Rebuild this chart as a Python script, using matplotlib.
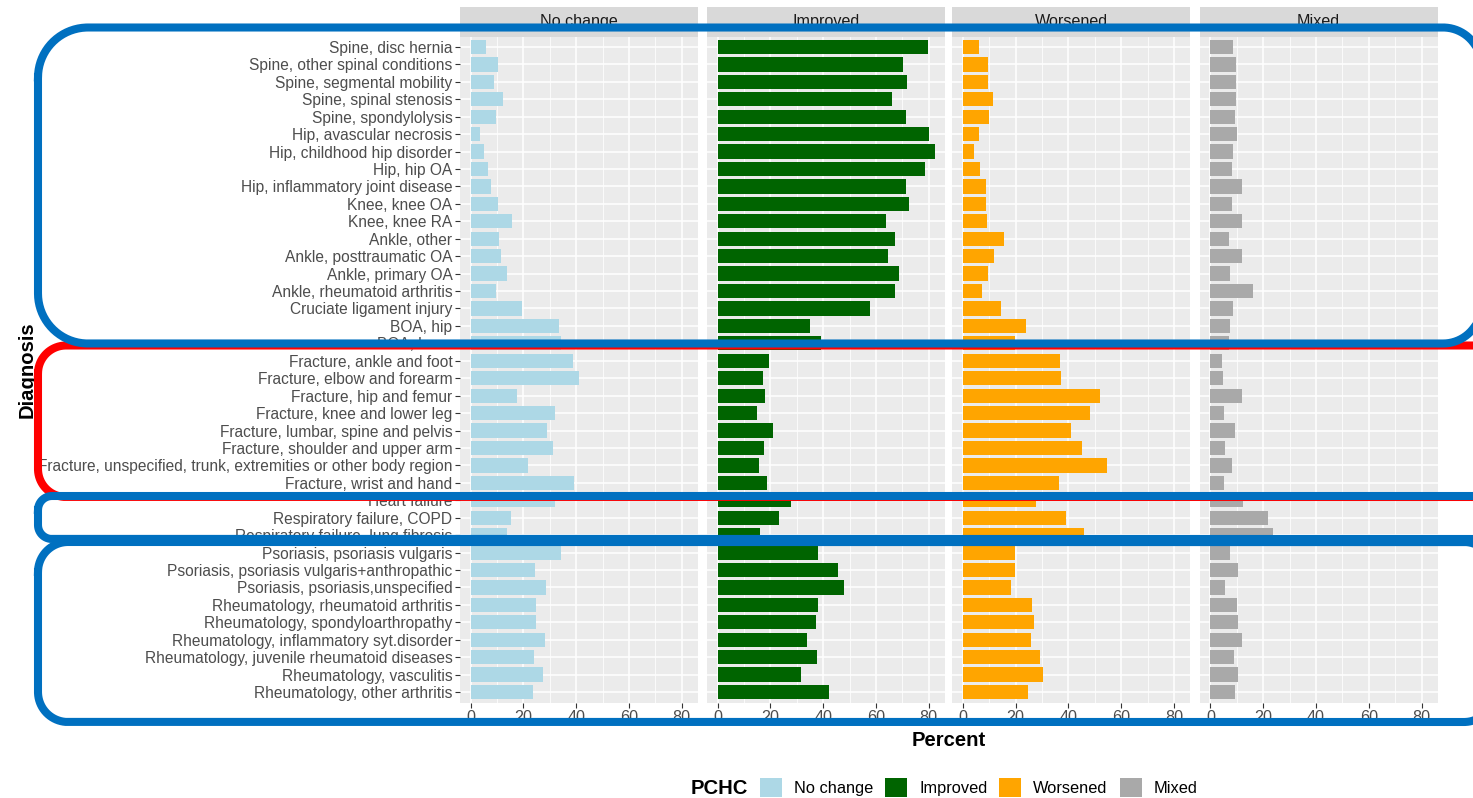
import numpy as np
import matplotlib.pyplot as plt
from matplotlib.patches import Patch

# Data (percent of patients per outcome group)
diagnoses = [
    "Spine, disc hernia",
    "Spine, other spinal conditions",
    "Spine, segmental mobility",
    "Spine, spinal stenosis",
    "Spine, spondylolysis",
    "Hip, avascular necrosis",
    "Hip, childhood hip disorder",
    "Hip, hip OA",
    "Hip, inflammatory joint disease",
    "Knee, knee OA",
    "Knee, knee RA",
    "Ankle, other",
    "Ankle, posttraumatic OA",
    "Ankle, primary OA",
    "Ankle, rheumatoid arthritis",
    "Cruciate ligament injury",
    "BOA, hip",
    "BOA, knee",
    "Fracture, ankle and foot",
    "Fracture, elbow and forearm",
    "Fracture, hip and femur",
    "Fracture, knee and lower leg",
    "Fracture, lumbar, spine and pelvis",
    "Fracture, shoulder and upper arm",
    "Fracture, unspecified, trunk, extremities or other body region",
    "Fracture, wrist and hand",
    "Heart failure",
    "Respiratory failure, COPD",
    "Respiratory failure, lung fibrosis",
    "Psoriasis, psoriasis vulgaris",
    "Psoriasis, psoriasis vulgaris+anthropathic",
    "Psoriasis, psoriasis,unspecified",
    "Rheumatology, rheumatoid arthritis",
    "Rheumatology, spondyloarthropathy",
    "Rheumatology, inflammatory syt.disorder",
    "Rheumatology, juvenile rheumatoid diseases",
    "Rheumatology, vasculitis",
    "Rheumatology, other arthritis",
]

no_change = [5.7, 10.4, 8.7, 12.1, 9.5, 3.5, 5.0, 6.6, 7.8, 10.4,
             15.6, 10.7, 11.4, 13.9, 9.7, 19.6, 33.6, 34.3, 38.8, 40.9,
             17.5, 32.1, 28.8, 31.2, 21.7, 39.2, 32.1, 15.3, 13.9, 34.3,
             24.3, 28.4, 24.6, 24.6, 28.1, 23.9, 27.4, 23.6]
improved = [79.6, 70.1, 71.8, 66.0, 71.4, 80.2, 82.2, 78.5, 71.4, 72.5,
            63.9, 67.3, 64.7, 68.8, 67.3, 57.6, 34.8, 39.3, 19.6, 17.0,
            17.9, 14.8, 20.9, 17.6, 15.7, 18.7, 27.9, 23.2, 16.1, 38.1,
            45.4, 47.9, 38.1, 37.4, 33.8, 37.8, 31.4, 42.2]
worsened = [6.1, 9.6, 9.6, 11.5, 10.0, 6.1, 4.4, 6.7, 8.9, 8.9,
            9.2, 15.7, 12.0, 9.6, 7.4, 14.4, 24.0, 19.8, 36.8, 37.2,
            52.1, 48.1, 41.0, 45.3, 54.5, 36.4, 27.7, 39.2, 46.0, 19.8,
            19.8, 18.3, 26.2, 26.8, 25.9, 29.4, 30.5, 24.8]
mixed = [8.7, 9.8, 9.8, 9.8, 9.4, 10.2, 8.7, 8.3, 11.9, 8.3,
         11.9, 7.2, 11.9, 7.6, 16.3, 8.7, 7.6, 6.9, 4.3, 4.6,
         11.9, 5.0, 9.4, 5.7, 8.0, 5.0, 12.4, 21.9, 23.9, 7.6,
         10.6, 5.4, 10.2, 10.6, 11.9, 9.1, 10.6, 9.4]

groups = ["No change", "Improved", "Worsened", "Mixed"]
colors = ["#ADD8E6", "#006400", "#FFA500", "#A9A9A9"]
series = [no_change, improved, worsened, mixed]

x_ticks = [0, 20, 40, 60, 80]
x_minor = [10, 30, 50, 70]


def box_outline(x0, y0, x1, y1, rl, rr, n=40):
    """Rounded box outline (pixel coords, y pointing down), left/right radii can differ"""
    pts = []
    corners = [(x0 + rl, y0 + rl, rl, 180, 270),
               (x1 - rr, y0 + rr, rr, 270, 360),
               (x1 - rr, y1 - rr, rr, 0, 90),
               (x0 + rl, y1 - rl, rl, 90, 180)]
    for cx, cy, r, a0, a1 in corners:
        t = np.radians(np.linspace(a0, a1, n))
        pts.append(np.column_stack([cx + r * np.cos(t), cy + r * np.sin(t)]))
    pts = np.vstack(pts + [pts[0][:1]])
    return pts[:, 0], pts[:, 1]


def draw():
    plt.rcParams['font.family'] = ['Liberation Sans', 'DejaVu Sans']
    W, H = 1473, 798
    fig = plt.figure(figsize=(W / 100, H / 100), dpi=100)

    # panel geometry in pixels
    lefts = [459.8, 706.9, 952.0, 1199.6]
    pw = 238.0
    top, bottom = 36.5, 702.5
    strip_h = 29.5
    small = 11.6

    y = np.arange(len(diagnoses))
    for i, (name, vals, col) in enumerate(zip(groups, series, colors)):
        ax = fig.add_axes([lefts[i] / W, 1 - bottom / H, pw / W, (bottom - top) / H])
        ax.set_facecolor('#EBEBEB')
        ax.barh(y, vals, height=0.82, color=col, zorder=3)
        ax.set_xlim(-4.1, 86.1)
        ax.set_ylim(len(diagnoses) - 0.4, -0.6)
        ax.set_xticks(x_ticks)
        ax.set_xticks(x_minor, minor=True)
        ax.set_yticks(y)
        ax.set_axisbelow(True)
        ax.grid(which='major', color='white', lw=1.1)
        ax.grid(which='minor', axis='x', color='white', lw=0.55)
        for s in ax.spines.values():
            s.set_visible(False)
        ax.tick_params(axis='x', which='major', length=3.8, width=0.8,
                       color='#333333', labelsize=small, labelcolor='#4D4D4D', pad=1.5)
        ax.tick_params(axis='x', which='minor', length=0)
        if i == 0:
            ax.set_yticklabels(diagnoses)
            ax.tick_params(axis='y', length=3.8, width=0.8, color='#333333',
                           labelsize=11.2, labelcolor='#4D4D4D', pad=1.5)
        else:
            ax.tick_params(axis='y', length=0, labelleft=False)

        # facet strip
        sx = fig.add_axes([lefts[i] / W, 1 - top / H, pw / W, strip_h / H])
        sx.set_facecolor('#D9D9D9')
        sx.set_xticks([])
        sx.set_yticks([])
        for s in sx.spines.values():
            s.set_visible(False)
        sx.text(0.5, 0.5, name, ha='center', va='center', fontsize=small,
                color='#1A1A1A', transform=sx.transAxes)

    fig.text(27 / W, 1 - 369.5 / H, 'Diagnosis', rotation=90, fontsize=14.6,
             fontweight='bold', ha='center', va='center')
    fig.text(948.7 / W, 1 - 740 / H, 'Percent', fontsize=14.6,
             fontweight='bold', ha='center', va='center')

    # legend
    fig.text(719 / W, 1 - 788 / H, 'PCHC', fontsize=14.6, fontweight='bold',
             ha='center', va='center')
    handles = [Patch(facecolor=c, edgecolor='none', label=g) for g, c in zip(groups, colors)]
    fig.legend(handles=handles, loc='center left', bbox_to_anchor=(760 / W, 1 - 787.5 / H),
               ncol=4, frameon=False, fontsize=11.8, handlelength=1.34, handleheight=1.34,
               handletextpad=0.73, columnspacing=0.73, borderpad=0, borderaxespad=0)

    # highlight boxes drawn over the chart, in pixel coordinates
    ov = fig.add_axes([0, 0, 1, 1], zorder=10)
    ov.set_xlim(0, W)
    ov.set_ylim(H, 0)
    ov.axis('off')
    ov.patch.set_alpha(0)
    boxes = [
        (38, 345.5, 1515, 497, 28, 28, '#FF0000'),
        (38, 27.5, 1481, 343.5, 50, 38, '#0070C0'),
        (38, 496, 1500, 539, 14, 14, '#0070C0'),
        (38, 542, 1494, 722, 30, 30, '#0070C0'),
    ]
    for x0, y0, x1, y1, rl, rr, c in boxes:
        bx, by = box_outline(x0, y0, x1, y1, rl, rr)
        ov.plot(bx, by, color=c, lw=5.8, solid_joinstyle='round', clip_on=False)

    fig.savefig('out.png', dpi=100)


if __name__ == "__main__":
    draw()
